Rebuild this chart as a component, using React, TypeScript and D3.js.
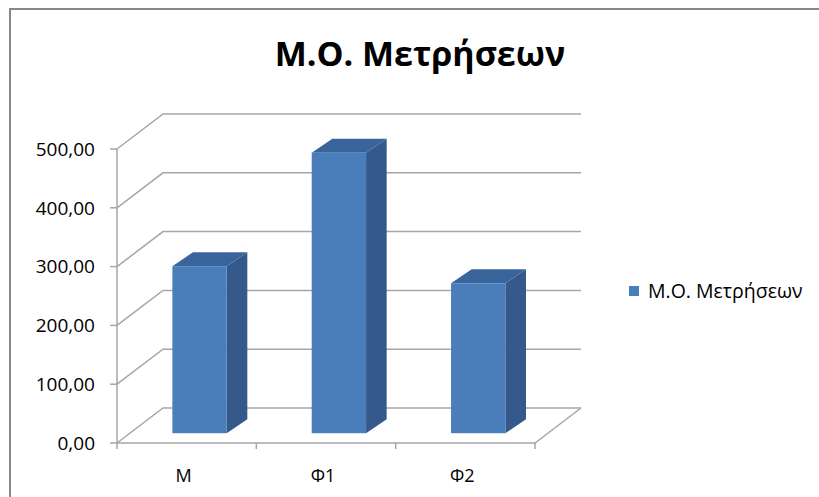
import React from "react";
import * as d3 from "d3";

const categories = ["Μ", "Φ1", "Φ2"];
const values = [284, 477, 255];
const yTicks = [0, 100, 200, 300, 400, 500];
const seriesName = "Μ.Ο. Μετρήσεων";
const chartTitle = "Μ.Ο. Μετρήσεων";

const W = 819;
const H = 497;
const FONT = "'Open Sans', sans-serif";

// front plane of the 3D plot box
const x0 = 117;
const x1 = 535;
const yBase = 443;
const yTop = 149;
// depth offset of the back wall
const DX = 46;
const DY = -35;
// bar depth range (fraction of full depth)
const dFront = 0.28;
const dBack = 0.68;

const fmt = (v: number) => d3.format(".2f")(v).replace(".", ",");

export default function App() {
  const x = d3.scaleBand<string>().domain(categories).range([x0, x1]).paddingInner(0).paddingOuter(0);
  const y = d3.scaleLinear().domain([0, 500]).range([yBase, yTop]);
  const bw = x.bandwidth();
  const barW = bw * 0.39;

  const grid = "#a6a6a6";
  const front = "#4a7ebb";
  const side = "#34598a";
  const top = "#3a659c";

  return (
    <svg width={W} height={H} style={{ position: "absolute", left: 0, top: 0, background: "#fff" }}>
      <rect x={0} y={0} width={W} height={H} fill="#fff" />
      {/* outer frame */}
      <rect x={10} y={9} width={W + 20} height={H + 20} fill="none" stroke="#888" strokeWidth={2} />

      <text x={420} y={66} textAnchor="middle" fontFamily={FONT} fontWeight="bold" fontSize={34} fill="#000">
        {chartTitle}
      </text>

      {/* walls: gridlines on side and back */}
      {yTicks.map((t) => (
        <g key={t}>
          <polyline
            points={`${x0},${y(t)} ${x0 + DX},${y(t) + DY} ${x1 + DX},${y(t) + DY}`}
            fill="none"
            stroke={grid}
            strokeWidth={1.5}
          />
          <line x1={x0 - 7} x2={x0} y1={y(t)} y2={y(t)} stroke={grid} strokeWidth={1.5} />
          <text x={95} y={y(t)} dy="0.36em" textAnchor="end" fontFamily={FONT} fontSize={19} fill="#000">
            {fmt(t)}
          </text>
        </g>
      ))}
      {/* floor */}
      <polyline
        points={`${x0},${yBase} ${x1},${yBase} ${x1 + DX},${yBase + DY}`}
        fill="none"
        stroke={grid}
        strokeWidth={1.5}
      />
      <line x1={x0} x2={x0} y1={yTop} y2={yBase} stroke={grid} strokeWidth={1.5} />
      {[...categories.map((c) => x(c) as number), x1].map((px, i) => (
        <line key={i} x1={px} x2={px} y1={yBase} y2={yBase + 6} stroke={grid} strokeWidth={1.5} />
      ))}

      {/* bars */}
      {categories.map((c, i) => {
        const cx = (x(c) as number) + bw / 2;
        const lx = cx - barW / 2 + DX * dFront;
        const rx = lx + barW;
        const by = y(0) + DY * dFront;
        const ty = y(values[i]) + DY * dFront;
        const ox = DX * (dBack - dFront) * 1.12;
        const oy = DY * (dBack - dFront);
        return (
          <g key={c}>
            <polygon points={`${lx},${ty} ${rx},${ty} ${rx + ox},${ty + oy} ${lx + ox},${ty + oy}`} fill={top} />
            <polygon points={`${rx},${ty} ${rx + ox},${ty + oy} ${rx + ox},${by + oy} ${rx},${by}`} fill={side} />
            <rect x={lx} y={ty} width={barW} height={by - ty} fill={front} />
          </g>
        );
      })}

      {categories.map((c) => (
        <text
          key={c}
          x={(x(c) as number) + bw / 2 - 3}
          y={482}
          textAnchor="middle"
          fontFamily={FONT}
          fontSize={18}
          fill="#000"
        >
          {c}
        </text>
      ))}

      {/* legend */}
      <rect x={629} y={286} width={10} height={10} fill={front} />
      <text x={648} y={291} dy="0.36em" fontFamily={FONT} fontSize={19.5} fill="#000">
        {seriesName}
      </text>
    </svg>
  );
}
